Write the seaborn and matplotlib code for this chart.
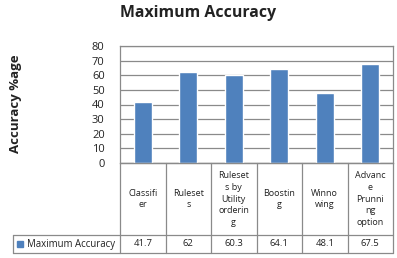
import matplotlib
matplotlib.use("Agg")
import matplotlib.pyplot as plt
import seaborn as sns
import pandas as pd

categories = ["Classifi\ner", "Ruleset\ns", "Ruleset\ns by\nUtility\norderin\ng",
              "Boostin\ng", "Winno\nwing", "Advanc\ne\nPrunni\nng\noption"]
values = [41.7, 62, 60.3, 64.1, 48.1, 67.5]
value_labels = ["41.7", "62", "60.3", "64.1", "48.1", "67.5"]
series_name = "Maximum Accuracy"
y_ticks = [0, 10, 20, 30, 40, 50, 60, 70, 80]

sns.set_style("white")
plt.rcParams['font.family'] = ['Open Sans', 'DejaVu Sans']

W, H = 397, 258
fig = plt.figure(figsize=(W / 100, H / 100), dpi=100)

x0, x1 = 120, 393
ytop, ybot = 46, 163
ax = fig.add_axes([x0 / W, 1 - ybot / H, (x1 - x0) / W, (ybot - ytop) / H])

df = pd.DataFrame({"cat": categories, "val": values})
bar_color = "#4F81BD"
sns.barplot(data=df, x="cat", y="val", order=categories, color=bar_color,
            width=0.4, saturation=1, ax=ax, zorder=3)
ax.set_xlim(-0.5, len(categories) - 0.5)
ax.set_ylim(0, 80)
ax.set_yticks(y_ticks)
ax.set_yticklabels([str(t) for t in y_ticks], fontsize=8, color="#222222")
ax.tick_params(axis="y", length=0, pad=11)
ax.set_xticks([])
ax.set_xlabel("")
ax.set_ylabel("")
ax.grid(axis="y", color="#8a8a8a", linewidth=0.9, zorder=0)
for s in ax.spines.values():
    s.set_color("#8a8a8a")
    s.set_linewidth(0.9)

lc = "#8a8a8a"
def px(x):
    return x / W
def py(y):
    return 1 - y / H

row_sep = 235
tbl_bot = 253
left = 13
ncol = len(categories)
colw = (x1 - x0) / ncol
tr = fig.transFigure
lines = []
lines.append(([px(x0), px(x1)], [py(ybot), py(ybot)]))
lines.append(([px(left), px(x1)], [py(row_sep), py(row_sep)]))
lines.append(([px(left), px(x1)], [py(tbl_bot), py(tbl_bot)]))
for i in range(ncol + 1):
    xx = x0 + i * colw
    lines.append(([px(xx), px(xx)], [py(ybot), py(tbl_bot)]))
lines.append(([px(left), px(left)], [py(row_sep), py(tbl_bot)]))
for xs, ys in lines:
    fig.add_artist(plt.Line2D(xs, ys, transform=tr, color=lc, linewidth=0.9))

for i, (c, v) in enumerate(zip(categories, value_labels)):
    cx = x0 + (i + 0.5) * colw
    fig.text(px(cx), py((ybot + row_sep) / 2), c, ha="center", va="center",
             fontsize=6.5, color="#222222", linespacing=1.4)
    fig.text(px(cx), py((row_sep + tbl_bot) / 2), v, ha="center", va="center",
             fontsize=6.8, color="#222222")

fig.add_artist(plt.Rectangle((px(17), py(247)), 6 / W, 6 / H, transform=tr,
                             color=bar_color))
fig.text(px(27), py((row_sep + tbl_bot) / 2), series_name, ha="left", va="center",
         fontsize=6.9, color="#222222")

fig.text(px(198), py(13), "Maximum Accuracy", ha="center", va="center",
         fontsize=11.4, fontweight="bold", color="#222222")
fig.text(px(15), py(104), "Accuracy %age", ha="center", va="center",
         rotation=90, fontsize=9.5, fontweight="bold", color="#222222")

fig.savefig("out.png", dpi=100)
